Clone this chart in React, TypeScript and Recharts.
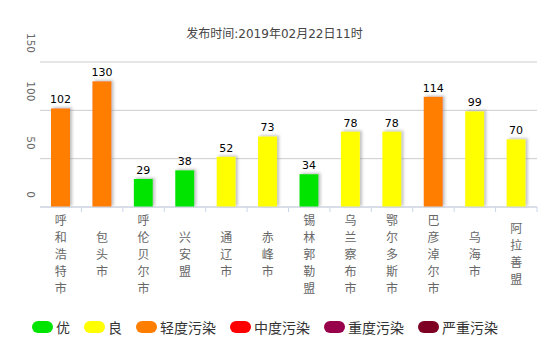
import { BarChart, Bar, XAxis, YAxis, CartesianGrid, Cell, LabelList } from 'recharts';

const cities = [
  '呼和浩特市', '包头市', '呼伦贝尔市', '兴安盟', '通辽市', '赤峰市',
  '锡林郭勒盟', '乌兰察布市', '鄂尔多斯市', '巴彦淖尔市', '乌海市', '阿拉善盟',
];
const aqi = [102, 130, 29, 38, 52, 73, 34, 78, 78, 114, 99, 70];

const levelNames = ['优', '良', '轻度污染', '中度污染', '重度污染', '严重污染'];
const levelColors = ['#00e400', '#ffff00', '#ff7e00', '#ff0000', '#99004c', '#7e0023'];
const levelLimits = [50, 100, 150, 200, 300, 500];
const yTicks = [0, 50, 100, 150];

const title = '发布时间:2019年02月22日11时';

const data = cities.map((name, i) => ({ name, value: aqi[i] }));
const levelOf = (v: number) => levelLimits.findIndex((lim) => v <= lim);

const FONT = '"Noto Sans CJK SC", "Noto Sans", sans-serif';
const NUM_FONT = '"DejaVu Sans", "Noto Sans CJK SC", sans-serif';
const WIDTH = 549;
const HEIGHT = 349;
const LEFT = 40;
const RIGHT = 12;
const BAND = (WIDTH - LEFT - RIGHT) / cities.length;

function CityTick({ x, y, payload }: any) {
  const chars = String(payload.value).split('');
  const mid = y + 47;
  const first = mid - ((chars.length - 1) * 17) / 2;
  return (
    <g>
      <line x1={x + BAND / 2} y1={y} x2={x + BAND / 2} y2={y + 5} stroke="#ccd6eb" />
      {chars.map((c, i) => (
        <text key={i} x={x} y={first + i * 17 + 4.5} textAnchor="middle" fontSize={12} fill="#666" fontFamily={FONT}>
          {c}
        </text>
      ))}
    </g>
  );
}

function ValueTick({ x, y, payload }: any) {
  return (
    <text
      transform={`translate(${x - 13},${y - 9}) rotate(90)`}
      textAnchor="end"
      fontSize={10.5}
      fill="#666"
      fontFamily={NUM_FONT}
    >
      {payload.value}
    </text>
  );
}

function ShadowBar({ x, y, width, height, fill }: any) {
  if (!height) return null;
  return <rect x={x} y={y} width={width} height={height} fill={fill} filter="url(#barShadow)" />;
}

export default function App() {
  return (
    <div style={{ position: 'absolute', left: 0, top: 0, width: WIDTH, height: HEIGHT, fontFamily: FONT }}>
      <div
        style={{
          position: 'absolute',
          top: 24,
          left: 0,
          width: WIDTH,
          textAlign: 'center',
          fontSize: 12,
          color: '#444',
          fontFamily: NUM_FONT,
        }}
      >
        {title}
      </div>
      <BarChart width={WIDTH} height={HEIGHT} data={data} margin={{ top: 62, right: RIGHT, bottom: 0, left: 0 }}>
        <defs>
          <filter id="barShadow" x="-30%" y="-10%" width="160%" height="120%">
            <feDropShadow dx={2} dy={-1} stdDeviation={1.5} floodColor="#888" floodOpacity={0.55} />
          </filter>
        </defs>
        <CartesianGrid vertical={false} stroke="#ccc" />
        <XAxis
          dataKey="name"
          height={142}
          interval={0}
          tickSize={0}
          tickMargin={0}
          tickLine={false}
          axisLine={{ stroke: '#ccd6eb' }}
          tick={<CityTick />}
        />
        <YAxis
          width={LEFT}
          domain={[0, 150]}
          ticks={yTicks}
          axisLine={false}
          tickLine={false}
          tickSize={0}
          tickMargin={0}
          tick={<ValueTick />}
        />
        <Bar dataKey="value" barSize={19} isAnimationActive={false} shape={<ShadowBar />}>
          {data.map((d, i) => (
            <Cell key={i} fill={levelColors[levelOf(d.value)]} />
          ))}
          <LabelList dataKey="value" position="top" offset={5} fill="#000" fontSize={11} fontFamily={NUM_FONT} />
        </Bar>
      </BarChart>
      <div
        style={{
          position: 'absolute',
          top: 318,
          left: 32,
          display: 'flex',
          alignItems: 'center',
          fontSize: 14,
          color: '#333',
          whiteSpace: 'nowrap',
        }}
      >
        {levelNames.map((n, i) => (
          <div key={n} style={{ display: 'flex', alignItems: 'center', marginRight: 14 }}>
            <span
              style={{
                display: 'inline-block',
                width: 21,
                height: 12,
                borderRadius: 6,
                background: levelColors[i],
                marginRight: 3,
              }}
            />
            <span style={{ lineHeight: '18px' }}>{n}</span>
          </div>
        ))}
      </div>
    </div>
  );
}
